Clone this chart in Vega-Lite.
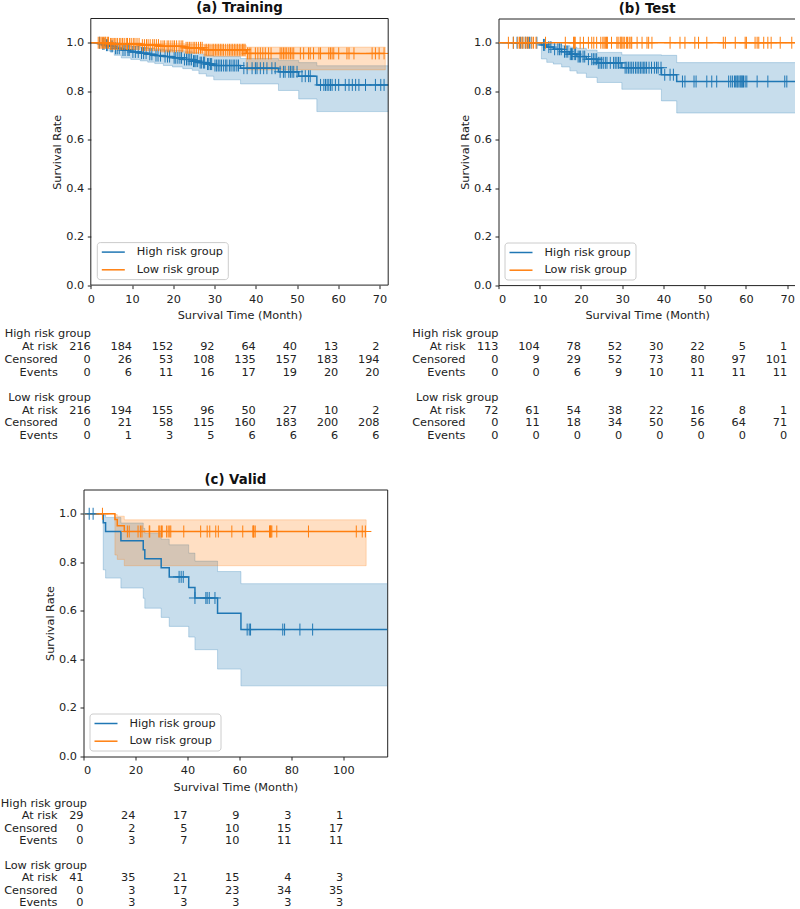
{
"$schema": "https://vega.github.io/schema/vega-lite/v6.json",
"background": "white",
"padding": {"left": 0.5, "top": 0.5, "right": -2, "bottom": 0},
"config": {
 "font": "DejaVu Sans",
 "axis": {"domain": false, "grid": false, "tickSize": 3.5, "tickWidth": 1, "tickColor": "#222", "labelColor": "#222", "titleColor": "#222", "labelFontSize": 11.3, "titleFontSize": 11.3, "titleFontWeight": "normal"},
 "axisX": {"labelPadding": 4.8, "titlePadding": 5},
 "axisY": {"labelPadding": 3.5, "titlePadding": 3.5},
 "title": {"fontSize": 13.3, "fontWeight": "bold", "color": "#111", "offset": 3.7, "anchor": "middle"},
 "legend": {"orient": "bottom-left", "offset": 6, "labelFontSize": 11.3, "labelColor": "#222", "strokeColor": "#cccccc", "fillColor": "#ffffff", "padding": 4, "cornerRadius": 3, "rowPadding": 5.7, "labelOffset": 24, "labelLimit": 300, "symbolSize": 100, "symbolStrokeWidth": 1.5}
},
"datasets": {
 "km": [
  {"p":"A","g":"H","t":0,"s":1},{"p":"A","g":"H","t":2.6,"s":0.995},{"p":"A","g":"H","t":3.4,"s":0.99},{"p":"A","g":"H","t":4.5,"s":0.985},{"p":"A","g":"H","t":5.7,"s":0.977},{"p":"A","g":"H","t":7.4,"s":0.97},{"p":"A","g":"H","t":9.7,"s":0.962},{"p":"A","g":"H","t":12,"s":0.957},{"p":"A","g":"H","t":13.8,"s":0.952},{"p":"A","g":"H","t":15.5,"s":0.947},{"p":"A","g":"H","t":17.6,"s":0.943},{"p":"A","g":"H","t":19.8,"s":0.938},{"p":"A","g":"H","t":22.3,"s":0.931},{"p":"A","g":"H","t":24.6,"s":0.924},{"p":"A","g":"H","t":26.2,"s":0.918},{"p":"A","g":"H","t":28,"s":0.912},{"p":"A","g":"H","t":29.8,"s":0.906},{"p":"A","g":"H","t":36.3,"s":0.895},{"p":"A","g":"H","t":45.5,"s":0.88},{"p":"A","g":"H","t":50.4,"s":0.862},{"p":"A","g":"H","t":54.8,"s":0.826},{"p":"A","g":"H","t":73},
  {"p":"A","g":"H","t":2.1,"c":1},{"p":"A","g":"H","t":2.9,"c":1},{"p":"A","g":"H","t":3.2,"c":1},{"p":"A","g":"H","t":3.8,"c":1},{"p":"A","g":"H","t":4.1,"c":1},{"p":"A","g":"H","t":4.9,"c":1},{"p":"A","g":"H","t":5.2,"c":1},{"p":"A","g":"H","t":6,"c":1},{"p":"A","g":"H","t":6.4,"c":1},{"p":"A","g":"H","t":6.9,"c":1},{"p":"A","g":"H","t":7.8,"c":1},{"p":"A","g":"H","t":8.3,"c":1},{"p":"A","g":"H","t":9,"c":1},{"p":"A","g":"H","t":9.3,"c":1},{"p":"A","g":"H","t":10.2,"c":1},{"p":"A","g":"H","t":10.8,"c":1},{"p":"A","g":"H","t":11.5,"c":1},{"p":"A","g":"H","t":12.3,"c":1},{"p":"A","g":"H","t":12.8,"c":1},{"p":"A","g":"H","t":13.4,"c":1},{"p":"A","g":"H","t":14.3,"c":1},{"p":"A","g":"H","t":14.8,"c":1},{"p":"A","g":"H","t":15.8,"c":1},{"p":"A","g":"H","t":16.3,"c":1},{"p":"A","g":"H","t":16.9,"c":1},{"p":"A","g":"H","t":18,"c":1},{"p":"A","g":"H","t":18.6,"c":1},{"p":"A","g":"H","t":19.1,"c":1},{"p":"A","g":"H","t":20.2,"c":1},{"p":"A","g":"H","t":20.6,"c":1},{"p":"A","g":"H","t":21.1,"c":1},{"p":"A","g":"H","t":21.6,"c":1},{"p":"A","g":"H","t":22,"c":1},{"p":"A","g":"H","t":22.7,"c":1},{"p":"A","g":"H","t":23.2,"c":1},{"p":"A","g":"H","t":23.6,"c":1},{"p":"A","g":"H","t":24,"c":1},{"p":"A","g":"H","t":24.4,"c":1},{"p":"A","g":"H","t":24.9,"c":1},{"p":"A","g":"H","t":25.2,"c":1},{"p":"A","g":"H","t":25.5,"c":1},{"p":"A","g":"H","t":25.9,"c":1},{"p":"A","g":"H","t":26.5,"c":1},{"p":"A","g":"H","t":26.8,"c":1},{"p":"A","g":"H","t":27.3,"c":1},{"p":"A","g":"H","t":27.6,"c":1},{"p":"A","g":"H","t":28.3,"c":1},{"p":"A","g":"H","t":28.6,"c":1},{"p":"A","g":"H","t":29,"c":1},{"p":"A","g":"H","t":29.3,"c":1},{"p":"A","g":"H","t":30.1,"c":1},{"p":"A","g":"H","t":30.5,"c":1},{"p":"A","g":"H","t":30.9,"c":1},{"p":"A","g":"H","t":31.3,"c":1},{"p":"A","g":"H","t":31.7,"c":1},{"p":"A","g":"H","t":32.2,"c":1},{"p":"A","g":"H","t":32.7,"c":1},{"p":"A","g":"H","t":33,"c":1},{"p":"A","g":"H","t":33.6,"c":1},{"p":"A","g":"H","t":34,"c":1},{"p":"A","g":"H","t":34.5,"c":1},{"p":"A","g":"H","t":34.9,"c":1},{"p":"A","g":"H","t":35.4,"c":1},{"p":"A","g":"H","t":35.8,"c":1},{"p":"A","g":"H","t":37.1,"c":1},{"p":"A","g":"H","t":37.9,"c":1},{"p":"A","g":"H","t":39.1,"c":1},{"p":"A","g":"H","t":39.9,"c":1},{"p":"A","g":"H","t":40.3,"c":1},{"p":"A","g":"H","t":41.1,"c":1},{"p":"A","g":"H","t":41.9,"c":1},{"p":"A","g":"H","t":42.7,"c":1},{"p":"A","g":"H","t":43.9,"c":1},{"p":"A","g":"H","t":44.7,"c":1},{"p":"A","g":"H","t":45.9,"c":1},{"p":"A","g":"H","t":46.7,"c":1},{"p":"A","g":"H","t":47.1,"c":1},{"p":"A","g":"H","t":48,"c":1},{"p":"A","g":"H","t":48.4,"c":1},{"p":"A","g":"H","t":48.8,"c":1},{"p":"A","g":"H","t":49.2,"c":1},{"p":"A","g":"H","t":50,"c":1},{"p":"A","g":"H","t":51.2,"c":1},{"p":"A","g":"H","t":52,"c":1},{"p":"A","g":"H","t":52.8,"c":1},{"p":"A","g":"H","t":53.2,"c":1},{"p":"A","g":"H","t":55.7,"c":1},{"p":"A","g":"H","t":56.5,"c":1},{"p":"A","g":"H","t":56.9,"c":1},{"p":"A","g":"H","t":57.3,"c":1},{"p":"A","g":"H","t":57.7,"c":1},{"p":"A","g":"H","t":58.1,"c":1},{"p":"A","g":"H","t":58.5,"c":1},{"p":"A","g":"H","t":59.3,"c":1},{"p":"A","g":"H","t":60.1,"c":1},{"p":"A","g":"H","t":61.7,"c":1},{"p":"A","g":"H","t":62.6,"c":1},{"p":"A","g":"H","t":63.4,"c":1},{"p":"A","g":"H","t":64.2,"c":1},{"p":"A","g":"H","t":65,"c":1},{"p":"A","g":"H","t":66.6,"c":1},{"p":"A","g":"H","t":69,"c":1},{"p":"A","g":"H","t":70.3,"c":1},{"p":"A","g":"H","t":71.1,"c":1},
  {"p":"A","g":"L","t":0,"s":1},{"p":"A","g":"L","t":4.6,"s":0.995},{"p":"A","g":"L","t":12.2,"s":0.99},{"p":"A","g":"L","t":16.7,"s":0.985},{"p":"A","g":"L","t":22.8,"s":0.979},{"p":"A","g":"L","t":27.4,"s":0.971},{"p":"A","g":"L","t":37.7,"s":0.956},
  {"p":"A","g":"L","t":1.8,"c":1},{"p":"A","g":"L","t":2.2,"c":1},{"p":"A","g":"L","t":2.5,"c":1},{"p":"A","g":"L","t":2.8,"c":1},{"p":"A","g":"L","t":3.1,"c":1},{"p":"A","g":"L","t":3.4,"c":1},{"p":"A","g":"L","t":3.6,"c":1},{"p":"A","g":"L","t":4,"c":1},{"p":"A","g":"L","t":4.3,"c":1},{"p":"A","g":"L","t":4.8,"c":1},{"p":"A","g":"L","t":5.1,"c":1},{"p":"A","g":"L","t":5.4,"c":1},{"p":"A","g":"L","t":5.8,"c":1},{"p":"A","g":"L","t":6.1,"c":1},{"p":"A","g":"L","t":6.5,"c":1},{"p":"A","g":"L","t":7,"c":1},{"p":"A","g":"L","t":7.3,"c":1},{"p":"A","g":"L","t":7.7,"c":1},{"p":"A","g":"L","t":8.1,"c":1},{"p":"A","g":"L","t":8.6,"c":1},{"p":"A","g":"L","t":8.9,"c":1},{"p":"A","g":"L","t":9.4,"c":1},{"p":"A","g":"L","t":9.8,"c":1},{"p":"A","g":"L","t":10.3,"c":1},{"p":"A","g":"L","t":10.7,"c":1},{"p":"A","g":"L","t":11.2,"c":1},{"p":"A","g":"L","t":11.7,"c":1},{"p":"A","g":"L","t":12.5,"c":1},{"p":"A","g":"L","t":13,"c":1},{"p":"A","g":"L","t":13.5,"c":1},{"p":"A","g":"L","t":13.9,"c":1},{"p":"A","g":"L","t":14.4,"c":1},{"p":"A","g":"L","t":15,"c":1},{"p":"A","g":"L","t":15.4,"c":1},{"p":"A","g":"L","t":15.9,"c":1},{"p":"A","g":"L","t":16.4,"c":1},{"p":"A","g":"L","t":17,"c":1},{"p":"A","g":"L","t":17.5,"c":1},{"p":"A","g":"L","t":17.9,"c":1},{"p":"A","g":"L","t":18.5,"c":1},{"p":"A","g":"L","t":18.9,"c":1},{"p":"A","g":"L","t":19.4,"c":1},{"p":"A","g":"L","t":19.9,"c":1},{"p":"A","g":"L","t":20.3,"c":1},{"p":"A","g":"L","t":20.8,"c":1},{"p":"A","g":"L","t":21.4,"c":1},{"p":"A","g":"L","t":21.9,"c":1},{"p":"A","g":"L","t":22.3,"c":1},{"p":"A","g":"L","t":23.1,"c":1},{"p":"A","g":"L","t":23.5,"c":1},{"p":"A","g":"L","t":23.9,"c":1},{"p":"A","g":"L","t":24.3,"c":1},{"p":"A","g":"L","t":24.8,"c":1},{"p":"A","g":"L","t":25.2,"c":1},{"p":"A","g":"L","t":25.6,"c":1},{"p":"A","g":"L","t":26.1,"c":1},{"p":"A","g":"L","t":26.6,"c":1},{"p":"A","g":"L","t":27,"c":1},{"p":"A","g":"L","t":27.7,"c":1},{"p":"A","g":"L","t":28.1,"c":1},{"p":"A","g":"L","t":28.5,"c":1},{"p":"A","g":"L","t":28.9,"c":1},{"p":"A","g":"L","t":29.4,"c":1},{"p":"A","g":"L","t":29.8,"c":1},{"p":"A","g":"L","t":30.2,"c":1},{"p":"A","g":"L","t":30.6,"c":1},{"p":"A","g":"L","t":31,"c":1},{"p":"A","g":"L","t":31.4,"c":1},{"p":"A","g":"L","t":31.8,"c":1},{"p":"A","g":"L","t":32.2,"c":1},{"p":"A","g":"L","t":32.7,"c":1},{"p":"A","g":"L","t":33.2,"c":1},{"p":"A","g":"L","t":33.6,"c":1},{"p":"A","g":"L","t":34,"c":1},{"p":"A","g":"L","t":34.4,"c":1},{"p":"A","g":"L","t":34.8,"c":1},{"p":"A","g":"L","t":35.2,"c":1},{"p":"A","g":"L","t":35.6,"c":1},{"p":"A","g":"L","t":36,"c":1},{"p":"A","g":"L","t":36.4,"c":1},{"p":"A","g":"L","t":36.8,"c":1},{"p":"A","g":"L","t":37.1,"c":1},{"p":"A","g":"L","t":37.4,"c":1},{"p":"A","g":"L","t":38,"c":1},{"p":"A","g":"L","t":38.4,"c":1},{"p":"A","g":"L","t":38.8,"c":1},{"p":"A","g":"L","t":39.9,"c":1},{"p":"A","g":"L","t":40.5,"c":1},{"p":"A","g":"L","t":41.1,"c":1},{"p":"A","g":"L","t":41.7,"c":1},{"p":"A","g":"L","t":42.3,"c":1},{"p":"A","g":"L","t":43.1,"c":1},{"p":"A","g":"L","t":43.7,"c":1},{"p":"A","g":"L","t":45.9,"c":1},{"p":"A","g":"L","t":46.3,"c":1},{"p":"A","g":"L","t":46.7,"c":1},{"p":"A","g":"L","t":47.1,"c":1},{"p":"A","g":"L","t":47.5,"c":1},{"p":"A","g":"L","t":48,"c":1},{"p":"A","g":"L","t":48.4,"c":1},{"p":"A","g":"L","t":48.8,"c":1},{"p":"A","g":"L","t":49.2,"c":1},{"p":"A","g":"L","t":50.8,"c":1},{"p":"A","g":"L","t":51.6,"c":1},{"p":"A","g":"L","t":52.8,"c":1},{"p":"A","g":"L","t":53.2,"c":1},{"p":"A","g":"L","t":54,"c":1},{"p":"A","g":"L","t":55.3,"c":1},{"p":"A","g":"L","t":55.7,"c":1},{"p":"A","g":"L","t":57.7,"c":1},{"p":"A","g":"L","t":58.1,"c":1},{"p":"A","g":"L","t":58.5,"c":1},{"p":"A","g":"L","t":58.9,"c":1},{"p":"A","g":"L","t":60.1,"c":1},{"p":"A","g":"L","t":62.1,"c":1},{"p":"A","g":"L","t":62.6,"c":1},{"p":"A","g":"L","t":63.8,"c":1},{"p":"A","g":"L","t":68.2,"c":1},{"p":"A","g":"L","t":69,"c":1},{"p":"A","g":"L","t":69.9,"c":1},{"p":"A","g":"L","t":71.1,"c":1},
  {"p":"B","g":"H","t":0,"s":1},{"p":"B","g":"H","t":10.4,"s":0.991},{"p":"B","g":"H","t":11.7,"s":0.982},{"p":"B","g":"H","t":13.3,"s":0.973},{"p":"B","g":"H","t":15.3,"s":0.963},{"p":"B","g":"H","t":17.3,"s":0.953},{"p":"B","g":"H","t":19,"s":0.943},{"p":"B","g":"H","t":21.3,"s":0.932},{"p":"B","g":"H","t":23.9,"s":0.917},{"p":"B","g":"H","t":29.9,"s":0.897},{"p":"B","g":"H","t":39.5,"s":0.868},{"p":"B","g":"H","t":43.2,"s":0.84},{"p":"B","g":"H","t":73},
  {"p":"B","g":"H","t":3.6,"c":1},{"p":"B","g":"H","t":4.5,"c":1},{"p":"B","g":"H","t":5.3,"c":1},{"p":"B","g":"H","t":5.9,"c":1},{"p":"B","g":"H","t":6.5,"c":1},{"p":"B","g":"H","t":7,"c":1},{"p":"B","g":"H","t":7.5,"c":1},{"p":"B","g":"H","t":7.9,"c":1},{"p":"B","g":"H","t":9.3,"c":1},{"p":"B","g":"H","t":10.9,"c":1},{"p":"B","g":"H","t":11.2,"c":1},{"p":"B","g":"H","t":12.2,"c":1},{"p":"B","g":"H","t":12.7,"c":1},{"p":"B","g":"H","t":13.6,"c":1},{"p":"B","g":"H","t":14.4,"c":1},{"p":"B","g":"H","t":14.8,"c":1},{"p":"B","g":"H","t":15.2,"c":1},{"p":"B","g":"H","t":16,"c":1},{"p":"B","g":"H","t":16.4,"c":1},{"p":"B","g":"H","t":16.8,"c":1},{"p":"B","g":"H","t":17.4,"c":1},{"p":"B","g":"H","t":17.7,"c":1},{"p":"B","g":"H","t":18,"c":1},{"p":"B","g":"H","t":18.5,"c":1},{"p":"B","g":"H","t":18.7,"c":1},{"p":"B","g":"H","t":19.3,"c":1},{"p":"B","g":"H","t":19.6,"c":1},{"p":"B","g":"H","t":19.9,"c":1},{"p":"B","g":"H","t":20.5,"c":1},{"p":"B","g":"H","t":20.9,"c":1},{"p":"B","g":"H","t":21.8,"c":1},{"p":"B","g":"H","t":22.6,"c":1},{"p":"B","g":"H","t":23,"c":1},{"p":"B","g":"H","t":23.4,"c":1},{"p":"B","g":"H","t":23.8,"c":1},{"p":"B","g":"H","t":24.2,"c":1},{"p":"B","g":"H","t":24.6,"c":1},{"p":"B","g":"H","t":25,"c":1},{"p":"B","g":"H","t":25.4,"c":1},{"p":"B","g":"H","t":25.9,"c":1},{"p":"B","g":"H","t":26.3,"c":1},{"p":"B","g":"H","t":27.1,"c":1},{"p":"B","g":"H","t":27.9,"c":1},{"p":"B","g":"H","t":28.3,"c":1},{"p":"B","g":"H","t":28.7,"c":1},{"p":"B","g":"H","t":29.1,"c":1},{"p":"B","g":"H","t":29.5,"c":1},{"p":"B","g":"H","t":30.7,"c":1},{"p":"B","g":"H","t":31.1,"c":1},{"p":"B","g":"H","t":31.5,"c":1},{"p":"B","g":"H","t":31.9,"c":1},{"p":"B","g":"H","t":32.3,"c":1},{"p":"B","g":"H","t":32.7,"c":1},{"p":"B","g":"H","t":33.2,"c":1},{"p":"B","g":"H","t":33.6,"c":1},{"p":"B","g":"H","t":34,"c":1},{"p":"B","g":"H","t":34.4,"c":1},{"p":"B","g":"H","t":34.8,"c":1},{"p":"B","g":"H","t":35.2,"c":1},{"p":"B","g":"H","t":35.5,"c":1},{"p":"B","g":"H","t":35.9,"c":1},{"p":"B","g":"H","t":36.5,"c":1},{"p":"B","g":"H","t":37.1,"c":1},{"p":"B","g":"H","t":37.8,"c":1},{"p":"B","g":"H","t":38.3,"c":1},{"p":"B","g":"H","t":38.7,"c":1},{"p":"B","g":"H","t":39.4,"c":1},{"p":"B","g":"H","t":40.3,"c":1},{"p":"B","g":"H","t":41.6,"c":1},{"p":"B","g":"H","t":42.4,"c":1},{"p":"B","g":"H","t":44.6,"c":1},{"p":"B","g":"H","t":45.2,"c":1},{"p":"B","g":"H","t":47.4,"c":1},{"p":"B","g":"H","t":47.9,"c":1},{"p":"B","g":"H","t":50.5,"c":1},{"p":"B","g":"H","t":51.7,"c":1},{"p":"B","g":"H","t":52.9,"c":1},{"p":"B","g":"H","t":55.8,"c":1},{"p":"B","g":"H","t":56.3,"c":1},{"p":"B","g":"H","t":56.7,"c":1},{"p":"B","g":"H","t":57.2,"c":1},{"p":"B","g":"H","t":57.5,"c":1},{"p":"B","g":"H","t":57.8,"c":1},{"p":"B","g":"H","t":58,"c":1},{"p":"B","g":"H","t":58.3,"c":1},{"p":"B","g":"H","t":58.6,"c":1},{"p":"B","g":"H","t":58.8,"c":1},{"p":"B","g":"H","t":59,"c":1},{"p":"B","g":"H","t":59.2,"c":1},{"p":"B","g":"H","t":59.4,"c":1},{"p":"B","g":"H","t":59.8,"c":1},{"p":"B","g":"H","t":60.2,"c":1},{"p":"B","g":"H","t":62.7,"c":1},{"p":"B","g":"H","t":65.3,"c":1},{"p":"B","g":"H","t":69.4,"c":1},{"p":"B","g":"H","t":69.9,"c":1},
  {"p":"B","g":"L","t":0,"s":1},{"p":"B","g":"L","t":73},
  {"p":"B","g":"L","t":2.4,"c":1},{"p":"B","g":"L","t":3.6,"c":1},{"p":"B","g":"L","t":4.7,"c":1},{"p":"B","g":"L","t":5.1,"c":1},{"p":"B","g":"L","t":5.5,"c":1},{"p":"B","g":"L","t":5.9,"c":1},{"p":"B","g":"L","t":6.5,"c":1},{"p":"B","g":"L","t":6.9,"c":1},{"p":"B","g":"L","t":7.3,"c":1},{"p":"B","g":"L","t":8.1,"c":1},{"p":"B","g":"L","t":8.5,"c":1},{"p":"B","g":"L","t":9.1,"c":1},{"p":"B","g":"L","t":11.4,"c":1},{"p":"B","g":"L","t":16.2,"c":1},{"p":"B","g":"L","t":18.2,"c":1},{"p":"B","g":"L","t":18.4,"c":1},{"p":"B","g":"L","t":18.6,"c":1},{"p":"B","g":"L","t":19.8,"c":1},{"p":"B","g":"L","t":20.6,"c":1},{"p":"B","g":"L","t":21.8,"c":1},{"p":"B","g":"L","t":22.6,"c":1},{"p":"B","g":"L","t":23.1,"c":1},{"p":"B","g":"L","t":23.8,"c":1},{"p":"B","g":"L","t":24.8,"c":1},{"p":"B","g":"L","t":25.3,"c":1},{"p":"B","g":"L","t":25.6,"c":1},{"p":"B","g":"L","t":25.9,"c":1},{"p":"B","g":"L","t":26.2,"c":1},{"p":"B","g":"L","t":26.4,"c":1},{"p":"B","g":"L","t":27.4,"c":1},{"p":"B","g":"L","t":28.7,"c":1},{"p":"B","g":"L","t":29,"c":1},{"p":"B","g":"L","t":29.5,"c":1},{"p":"B","g":"L","t":29.7,"c":1},{"p":"B","g":"L","t":29.9,"c":1},{"p":"B","g":"L","t":30.2,"c":1},{"p":"B","g":"L","t":30.5,"c":1},{"p":"B","g":"L","t":31,"c":1},{"p":"B","g":"L","t":31.3,"c":1},{"p":"B","g":"L","t":31.7,"c":1},{"p":"B","g":"L","t":32.1,"c":1},{"p":"B","g":"L","t":32.3,"c":1},{"p":"B","g":"L","t":33.6,"c":1},{"p":"B","g":"L","t":34.8,"c":1},{"p":"B","g":"L","t":36,"c":1},{"p":"B","g":"L","t":36.4,"c":1},{"p":"B","g":"L","t":37.2,"c":1},{"p":"B","g":"L","t":41.6,"c":1},{"p":"B","g":"L","t":44,"c":1},{"p":"B","g":"L","t":45.2,"c":1},{"p":"B","g":"L","t":47.6,"c":1},{"p":"B","g":"L","t":48.5,"c":1},{"p":"B","g":"L","t":50.5,"c":1},{"p":"B","g":"L","t":54.5,"c":1},{"p":"B","g":"L","t":55,"c":1},{"p":"B","g":"L","t":57.4,"c":1},{"p":"B","g":"L","t":59.8,"c":1},{"p":"B","g":"L","t":60.1,"c":1},{"p":"B","g":"L","t":62.2,"c":1},{"p":"B","g":"L","t":62.7,"c":1},{"p":"B","g":"L","t":63.1,"c":1},{"p":"B","g":"L","t":64.3,"c":1},{"p":"B","g":"L","t":65.3,"c":1},{"p":"B","g":"L","t":66.1,"c":1},{"p":"B","g":"L","t":68.3,"c":1},{"p":"B","g":"L","t":71.1,"c":1},
  {"p":"C","g":"H","t":0,"s":1},{"p":"C","g":"H","t":7.6,"s":0.963},{"p":"C","g":"H","t":8.5,"s":0.927},{"p":"C","g":"H","t":14.4,"s":0.889},{"p":"C","g":"H","t":23,"s":0.852},{"p":"C","g":"H","t":23.6,"s":0.815},{"p":"C","g":"H","t":29.9,"s":0.778},{"p":"C","g":"H","t":33,"s":0.74},{"p":"C","g":"H","t":40.5,"s":0.696},{"p":"C","g":"H","t":42.9,"s":0.653},{"p":"C","g":"H","t":51.6,"s":0.59},{"p":"C","g":"H","t":60.6,"s":0.523},{"p":"C","g":"H","t":120},
  {"p":"C","g":"H","t":2.2,"c":1},{"p":"C","g":"H","t":3.7,"c":1},{"p":"C","g":"H","t":36.8,"c":1},{"p":"C","g":"H","t":37.6,"c":1},{"p":"C","g":"H","t":38.4,"c":1},{"p":"C","g":"H","t":42.9,"c":1},{"p":"C","g":"H","t":47.1,"c":1},{"p":"C","g":"H","t":47.6,"c":1},{"p":"C","g":"H","t":48.4,"c":1},{"p":"C","g":"H","t":50.6,"c":1},{"p":"C","g":"H","t":63,"c":1},{"p":"C","g":"H","t":63.8,"c":1},{"p":"C","g":"H","t":64.3,"c":1},{"p":"C","g":"H","t":76.7,"c":1},{"p":"C","g":"H","t":77.4,"c":1},{"p":"C","g":"H","t":83.3,"c":1},{"p":"C","g":"H","t":88.2,"c":1},
  {"p":"C","g":"L","t":0,"s":1},{"p":"C","g":"L","t":12.1,"s":0.976},{"p":"C","g":"L","t":13,"s":0.951},{"p":"C","g":"L","t":15.7,"s":0.927},
  {"p":"C","g":"L","t":7.3,"c":1},{"p":"C","g":"L","t":16.9,"c":1},{"p":"C","g":"L","t":17.6,"c":1},{"p":"C","g":"L","t":21,"c":1},{"p":"C","g":"L","t":21.9,"c":1},{"p":"C","g":"L","t":22.5,"c":1},{"p":"C","g":"L","t":25.3,"c":1},{"p":"C","g":"L","t":25.5,"c":1},{"p":"C","g":"L","t":29,"c":1},{"p":"C","g":"L","t":29.4,"c":1},{"p":"C","g":"L","t":30,"c":1},{"p":"C","g":"L","t":30.3,"c":1},{"p":"C","g":"L","t":32,"c":1},{"p":"C","g":"L","t":32.6,"c":1},{"p":"C","g":"L","t":33.2,"c":1},{"p":"C","g":"L","t":33.6,"c":1},{"p":"C","g":"L","t":38.6,"c":1},{"p":"C","g":"L","t":45.1,"c":1},{"p":"C","g":"L","t":47.6,"c":1},{"p":"C","g":"L","t":48.6,"c":1},{"p":"C","g":"L","t":50.9,"c":1},{"p":"C","g":"L","t":51.9,"c":1},{"p":"C","g":"L","t":57.1,"c":1},{"p":"C","g":"L","t":61.3,"c":1},{"p":"C","g":"L","t":65.2,"c":1},{"p":"C","g":"L","t":65.4,"c":1},{"p":"C","g":"L","t":65.6,"c":1},{"p":"C","g":"L","t":66.1,"c":1},{"p":"C","g":"L","t":71.6,"c":1},{"p":"C","g":"L","t":71.8,"c":1},{"p":"C","g":"L","t":72,"c":1},{"p":"C","g":"L","t":72.2,"c":1},{"p":"C","g":"L","t":72.5,"c":1},{"p":"C","g":"L","t":74.4,"c":1},{"p":"C","g":"L","t":86.6,"c":1},{"p":"C","g":"L","t":105,"c":1},{"p":"C","g":"L","t":107.3,"c":1},{"p":"C","g":"L","t":108.5,"c":1}
 ],
 "band": [
  {"p":"A","g":"H","t":0,"lo":1,"hi":1},{"p":"A","g":"H","t":2.6,"lo":0.985,"hi":1},{"p":"A","g":"H","t":4.5,"lo":0.965,"hi":0.997},{"p":"A","g":"H","t":5.7,"lo":0.948,"hi":0.993},{"p":"A","g":"H","t":7.4,"lo":0.937,"hi":0.988},{"p":"A","g":"H","t":9.7,"lo":0.931,"hi":0.984},{"p":"A","g":"H","t":12,"lo":0.925,"hi":0.98},{"p":"A","g":"H","t":13.8,"lo":0.92,"hi":0.977},{"p":"A","g":"H","t":15.5,"lo":0.914,"hi":0.974},{"p":"A","g":"H","t":17.6,"lo":0.906,"hi":0.971},{"p":"A","g":"H","t":19.8,"lo":0.9,"hi":0.968},{"p":"A","g":"H","t":22.3,"lo":0.893,"hi":0.963},{"p":"A","g":"H","t":24.6,"lo":0.886,"hi":0.958},{"p":"A","g":"H","t":26.2,"lo":0.872,"hi":0.953},{"p":"A","g":"H","t":28,"lo":0.862,"hi":0.948},{"p":"A","g":"H","t":29.8,"lo":0.847,"hi":0.943},{"p":"A","g":"H","t":36.3,"lo":0.83,"hi":0.935},{"p":"A","g":"H","t":45.5,"lo":0.803,"hi":0.927},{"p":"A","g":"H","t":50.4,"lo":0.768,"hi":0.918},{"p":"A","g":"H","t":54.8,"lo":0.716,"hi":0.905},{"p":"A","g":"H","t":73,"lo":0.716,"hi":0.905},
  {"p":"A","g":"L","t":0,"lo":1,"hi":1},{"p":"A","g":"L","t":4.6,"lo":0.985,"hi":1},{"p":"A","g":"L","t":12.2,"lo":0.976,"hi":0.998},{"p":"A","g":"L","t":16.7,"lo":0.968,"hi":0.996},{"p":"A","g":"L","t":22.8,"lo":0.958,"hi":0.993},{"p":"A","g":"L","t":27.4,"lo":0.944,"hi":0.989},{"p":"A","g":"L","t":37.7,"lo":0.888,"hi":0.982},{"p":"A","g":"L","t":71.4,"lo":0.888,"hi":0.982},
  {"p":"B","g":"H","t":0,"lo":1,"hi":1},{"p":"B","g":"H","t":10.4,"lo":0.933,"hi":0.999},{"p":"B","g":"H","t":11.7,"lo":0.919,"hi":0.996},{"p":"B","g":"H","t":13.3,"lo":0.912,"hi":0.993},{"p":"B","g":"H","t":15.3,"lo":0.9,"hi":0.988},{"p":"B","g":"H","t":17.3,"lo":0.884,"hi":0.982},{"p":"B","g":"H","t":19,"lo":0.874,"hi":0.977},{"p":"B","g":"H","t":21.3,"lo":0.857,"hi":0.97},{"p":"B","g":"H","t":23.9,"lo":0.836,"hi":0.96},{"p":"B","g":"H","t":29.9,"lo":0.808,"hi":0.95},{"p":"B","g":"H","t":39.5,"lo":0.76,"hi":0.948},{"p":"B","g":"H","t":43.2,"lo":0.71,"hi":0.918},{"p":"B","g":"H","t":73,"lo":0.71,"hi":0.918},
  {"p":"C","g":"H","t":0,"lo":1,"hi":1},{"p":"C","g":"H","t":7.6,"lo":0.769,"hi":0.995},{"p":"C","g":"H","t":8.5,"lo":0.735,"hi":0.985},{"p":"C","g":"H","t":14.4,"lo":0.694,"hi":0.962},{"p":"C","g":"H","t":23,"lo":0.652,"hi":0.94},{"p":"C","g":"H","t":23.6,"lo":0.611,"hi":0.92},{"p":"C","g":"H","t":29.9,"lo":0.573,"hi":0.895},{"p":"C","g":"H","t":33,"lo":0.536,"hi":0.872},{"p":"C","g":"H","t":40.5,"lo":0.492,"hi":0.838},{"p":"C","g":"H","t":42.9,"lo":0.44,"hi":0.805},{"p":"C","g":"H","t":51.6,"lo":0.36,"hi":0.762},{"p":"C","g":"H","t":60.6,"lo":0.291,"hi":0.712},{"p":"C","g":"H","t":120,"lo":0.291,"hi":0.712},
  {"p":"C","g":"L","t":0,"lo":1,"hi":1},{"p":"C","g":"L","t":12.1,"lo":0.83,"hi":0.997},{"p":"C","g":"L","t":13,"lo":0.812,"hi":0.99},{"p":"C","g":"L","t":15.7,"lo":0.786,"hi":0.975},{"p":"C","g":"L","t":108.8,"lo":0.786,"hi":0.975}
 ],
 "frame": [{"p":"A","x0":0,"x1":72.1,"y0":0,"y1":1.1}],
 "lab": [
  {"r":0,"k":"g","lab":"High risk group"},{"r":1,"k":"r","lab":"At risk"},{"r":2,"k":"r","lab":"Censored"},{"r":3,"k":"r","lab":"Events"},
  {"r":5,"k":"g","lab":"Low risk group"},{"r":6,"k":"r","lab":"At risk"},{"r":7,"k":"r","lab":"Censored"},{"r":8,"k":"r","lab":"Events"}
 ],
 "tab": [
  {"p":"A","r":1,"t":0,"v":"216"},{"p":"A","r":1,"t":10,"v":"184"},{"p":"A","r":1,"t":20,"v":"152"},{"p":"A","r":1,"t":30,"v":"92"},{"p":"A","r":1,"t":40,"v":"64"},{"p":"A","r":1,"t":50,"v":"40"},{"p":"A","r":1,"t":60,"v":"13"},{"p":"A","r":1,"t":70,"v":"2"},
  {"p":"A","r":2,"t":0,"v":"0"},{"p":"A","r":2,"t":10,"v":"26"},{"p":"A","r":2,"t":20,"v":"53"},{"p":"A","r":2,"t":30,"v":"108"},{"p":"A","r":2,"t":40,"v":"135"},{"p":"A","r":2,"t":50,"v":"157"},{"p":"A","r":2,"t":60,"v":"183"},{"p":"A","r":2,"t":70,"v":"194"},
  {"p":"A","r":3,"t":0,"v":"0"},{"p":"A","r":3,"t":10,"v":"6"},{"p":"A","r":3,"t":20,"v":"11"},{"p":"A","r":3,"t":30,"v":"16"},{"p":"A","r":3,"t":40,"v":"17"},{"p":"A","r":3,"t":50,"v":"19"},{"p":"A","r":3,"t":60,"v":"20"},{"p":"A","r":3,"t":70,"v":"20"},
  {"p":"A","r":6,"t":0,"v":"216"},{"p":"A","r":6,"t":10,"v":"194"},{"p":"A","r":6,"t":20,"v":"155"},{"p":"A","r":6,"t":30,"v":"96"},{"p":"A","r":6,"t":40,"v":"50"},{"p":"A","r":6,"t":50,"v":"27"},{"p":"A","r":6,"t":60,"v":"10"},{"p":"A","r":6,"t":70,"v":"2"},
  {"p":"A","r":7,"t":0,"v":"0"},{"p":"A","r":7,"t":10,"v":"21"},{"p":"A","r":7,"t":20,"v":"58"},{"p":"A","r":7,"t":30,"v":"115"},{"p":"A","r":7,"t":40,"v":"160"},{"p":"A","r":7,"t":50,"v":"183"},{"p":"A","r":7,"t":60,"v":"200"},{"p":"A","r":7,"t":70,"v":"208"},
  {"p":"A","r":8,"t":0,"v":"0"},{"p":"A","r":8,"t":10,"v":"1"},{"p":"A","r":8,"t":20,"v":"3"},{"p":"A","r":8,"t":30,"v":"5"},{"p":"A","r":8,"t":40,"v":"6"},{"p":"A","r":8,"t":50,"v":"6"},{"p":"A","r":8,"t":60,"v":"6"},{"p":"A","r":8,"t":70,"v":"6"},
  {"p":"B","r":1,"t":0,"v":"113"},{"p":"B","r":1,"t":10,"v":"104"},{"p":"B","r":1,"t":20,"v":"78"},{"p":"B","r":1,"t":30,"v":"52"},{"p":"B","r":1,"t":40,"v":"30"},{"p":"B","r":1,"t":50,"v":"22"},{"p":"B","r":1,"t":60,"v":"5"},{"p":"B","r":1,"t":70,"v":"1"},
  {"p":"B","r":2,"t":0,"v":"0"},{"p":"B","r":2,"t":10,"v":"9"},{"p":"B","r":2,"t":20,"v":"29"},{"p":"B","r":2,"t":30,"v":"52"},{"p":"B","r":2,"t":40,"v":"73"},{"p":"B","r":2,"t":50,"v":"80"},{"p":"B","r":2,"t":60,"v":"97"},{"p":"B","r":2,"t":70,"v":"101"},
  {"p":"B","r":3,"t":0,"v":"0"},{"p":"B","r":3,"t":10,"v":"0"},{"p":"B","r":3,"t":20,"v":"6"},{"p":"B","r":3,"t":30,"v":"9"},{"p":"B","r":3,"t":40,"v":"10"},{"p":"B","r":3,"t":50,"v":"11"},{"p":"B","r":3,"t":60,"v":"11"},{"p":"B","r":3,"t":70,"v":"11"},
  {"p":"B","r":6,"t":0,"v":"72"},{"p":"B","r":6,"t":10,"v":"61"},{"p":"B","r":6,"t":20,"v":"54"},{"p":"B","r":6,"t":30,"v":"38"},{"p":"B","r":6,"t":40,"v":"22"},{"p":"B","r":6,"t":50,"v":"16"},{"p":"B","r":6,"t":60,"v":"8"},{"p":"B","r":6,"t":70,"v":"1"},
  {"p":"B","r":7,"t":0,"v":"0"},{"p":"B","r":7,"t":10,"v":"11"},{"p":"B","r":7,"t":20,"v":"18"},{"p":"B","r":7,"t":30,"v":"34"},{"p":"B","r":7,"t":40,"v":"50"},{"p":"B","r":7,"t":50,"v":"56"},{"p":"B","r":7,"t":60,"v":"64"},{"p":"B","r":7,"t":70,"v":"71"},
  {"p":"B","r":8,"t":0,"v":"0"},{"p":"B","r":8,"t":10,"v":"0"},{"p":"B","r":8,"t":20,"v":"0"},{"p":"B","r":8,"t":30,"v":"0"},{"p":"B","r":8,"t":40,"v":"0"},{"p":"B","r":8,"t":50,"v":"0"},{"p":"B","r":8,"t":60,"v":"0"},{"p":"B","r":8,"t":70,"v":"0"},
  {"p":"C","r":1,"t":0,"v":"29"},{"p":"C","r":1,"t":20,"v":"24"},{"p":"C","r":1,"t":40,"v":"17"},{"p":"C","r":1,"t":60,"v":"9"},{"p":"C","r":1,"t":80,"v":"3"},{"p":"C","r":1,"t":100,"v":"1"},
  {"p":"C","r":2,"t":0,"v":"0"},{"p":"C","r":2,"t":20,"v":"2"},{"p":"C","r":2,"t":40,"v":"5"},{"p":"C","r":2,"t":60,"v":"10"},{"p":"C","r":2,"t":80,"v":"15"},{"p":"C","r":2,"t":100,"v":"17"},
  {"p":"C","r":3,"t":0,"v":"0"},{"p":"C","r":3,"t":20,"v":"3"},{"p":"C","r":3,"t":40,"v":"7"},{"p":"C","r":3,"t":60,"v":"10"},{"p":"C","r":3,"t":80,"v":"11"},{"p":"C","r":3,"t":100,"v":"11"},
  {"p":"C","r":6,"t":0,"v":"41"},{"p":"C","r":6,"t":20,"v":"35"},{"p":"C","r":6,"t":40,"v":"21"},{"p":"C","r":6,"t":60,"v":"15"},{"p":"C","r":6,"t":80,"v":"4"},{"p":"C","r":6,"t":100,"v":"3"},
  {"p":"C","r":7,"t":0,"v":"0"},{"p":"C","r":7,"t":20,"v":"3"},{"p":"C","r":7,"t":40,"v":"17"},{"p":"C","r":7,"t":60,"v":"23"},{"p":"C","r":7,"t":80,"v":"34"},{"p":"C","r":7,"t":100,"v":"35"},
  {"p":"C","r":8,"t":0,"v":"0"},{"p":"C","r":8,"t":20,"v":"3"},{"p":"C","r":8,"t":40,"v":"3"},{"p":"C","r":8,"t":60,"v":"3"},{"p":"C","r":8,"t":80,"v":"3"},{"p":"C","r":8,"t":100,"v":"3"}
 ]
},
"columns": 2,
"spacing": {"row": 0, "column": 110},
"bounds": "flush",
"align": "each",
"resolve": {"scale": {"color": "independent"}, "legend": {"color": "independent"}},
"concat": [
 {"width": 304.7, "height": 266.6, "view": {"stroke": null},
  "title": {"text": "(a) Training", "dx": 3.65},
  "encoding": {
   "x": {"field": "t", "type": "quantitative", "scale": {"domain": [-1.772, 72.1], "nice": false, "zero": false}, "axis": {"values": [0,10,20,30,40,50,60,70], "title": "Survival Time (Month)", "titleX": 156}},
   "y": {"field": "S", "type": "quantitative", "scale": {"domain": [0, 1.1], "nice": false}, "axis": {"values": [0,0.2,0.4,0.6,0.8,1], "format": ".1f", "title": "Survival Rate", "offset": -7.3}}},
  "layer": [
   {"data": {"name": "band"}, "transform": [{"filter": "datum.p == 'A' && datum.g == 'H'"}],
    "mark": {"type": "area", "interpolate": "step-after", "fill": "#1f77b4", "fillOpacity": 0.25, "stroke": "#1f77b4", "strokeOpacity": 0.25, "strokeWidth": 1, "clip": true},
    "encoding": {"y": {"field": "lo", "type": "quantitative", "title": "Survival Rate"}, "y2": {"field": "hi"}}},
   {"data": {"name": "band"}, "transform": [{"filter": "datum.p == 'A' && datum.g == 'L'"}],
    "mark": {"type": "area", "interpolate": "step-after", "fill": "#ff7f0e", "fillOpacity": 0.25, "stroke": "#ff7f0e", "strokeOpacity": 0.25, "strokeWidth": 1, "clip": true},
    "encoding": {"y": {"field": "lo", "type": "quantitative", "title": "Survival Rate"}, "y2": {"field": "hi"}}},
   {"data": {"name": "km"}, "transform": [{"filter": "datum.p == 'A'"}, {"window": [{"op": "min", "field": "s", "as": "S"}], "groupby": ["g"], "sort": [{"field": "t"}], "frame": [null, 0]}],
    "layer": [
     {"mark": {"type": "line", "interpolate": "step-after", "strokeWidth": 1.5, "clip": true},
      "encoding": {"color": {"field": "g", "type": "nominal", "scale": {"domain": ["H","L"], "range": ["#1f77b4","#ff7f0e"]}, "legend": {"title": null, "orient": "none", "legendX": 13.3, "legendY": 223.6, "symbolType": "M-1,0L3.6,0", "symbolStrokeWidth": 1.5, "labelExpr": "datum.label == 'H' ? 'High risk group' : 'Low risk group'"}}}},
     {"transform": [{"filter": "datum.c == 1 && datum.g == 'H'"}],
      "mark": {"type": "point", "shape": "M-1,0L1,0M0,-1L0,1", "size": 144, "filled": false, "stroke": "#1f77b4", "strokeWidth": 1, "opacity": 1, "clip": true}},
     {"transform": [{"filter": "datum.c == 1 && datum.g == 'L'"}],
      "mark": {"type": "point", "shape": "M-1,0L1,0M0,-1L0,1", "size": 144, "filled": false, "stroke": "#ff7f0e", "strokeWidth": 1, "opacity": 1, "clip": true}}
    ]},
   {"data": {"name": "frame"},
    "mark": {"type": "rect", "fill": "transparent", "stroke": "#222", "strokeWidth": 1},
    "encoding": {"x": {"field": "x0", "type": "quantitative"}, "x2": {"field": "x1"}, "y": {"field": "y0", "type": "quantitative"}, "y2": {"field": "y1"}}}
  ]},
 {"width": 297.4, "height": 266.6, "view": {"stroke": "#222"},
  "title": {"text": "(b) Test"},
  "data": {"name": "km"},
  "transform": [{"filter": "datum.p == 'B'"}, {"window": [{"op": "min", "field": "s", "as": "S"}], "groupby": ["g"], "sort": [{"field": "t"}], "frame": [null, 0]}],
  "encoding": {
   "x": {"field": "t", "type": "quantitative", "scale": {"domain": [0, 72.1], "nice": false, "zero": false}, "axis": {"values": [0,10,20,30,40,50,60,70], "title": "Survival Time (Month)"}},
   "y": {"field": "S", "type": "quantitative", "scale": {"domain": [0, 1.1], "nice": false}, "axis": {"values": [0,0.2,0.4,0.6,0.8,1], "format": ".1f", "title": "Survival Rate"}}},
  "layer": [
   {"data": {"name": "band"}, "transform": [{"filter": "datum.p == 'B' && datum.g == 'H'"}],
    "mark": {"type": "area", "interpolate": "step-after", "fill": "#1f77b4", "fillOpacity": 0.25, "stroke": "#1f77b4", "strokeOpacity": 0.25, "strokeWidth": 1, "clip": true},
    "encoding": {"y": {"field": "lo", "type": "quantitative", "title": "Survival Rate"}, "y2": {"field": "hi"}}},
   {"mark": {"type": "line", "interpolate": "step-after", "strokeWidth": 1.5, "clip": true},
    "encoding": {"color": {"field": "g", "type": "nominal", "scale": {"domain": ["H","L"], "range": ["#1f77b4","#ff7f0e"]}, "legend": {"title": null, "symbolType": "M-1,0L3.6,0", "symbolStrokeWidth": 1.5, "labelExpr": "datum.label == 'H' ? 'High risk group' : 'Low risk group'"}}}},
   {"transform": [{"filter": "datum.c == 1 && datum.g == 'H'"}],
    "mark": {"type": "point", "shape": "M-1,0L1,0M0,-1L0,1", "size": 144, "filled": false, "stroke": "#1f77b4", "strokeWidth": 1, "opacity": 1, "clip": true}},
   {"transform": [{"filter": "datum.c == 1 && datum.g == 'L'"}],
    "mark": {"type": "point", "shape": "M-1,0L1,0M0,-1L0,1", "size": 144, "filled": false, "stroke": "#ff7f0e", "strokeWidth": 1, "opacity": 1, "clip": true}}
  ]},
 {"width": 304.7, "height": 203.7, "view": {"stroke": null},
  "layer": [
   {"data": {"name": "tab"}, "transform": [{"filter": "datum.p == 'A'"}],
    "mark": {"type": "text", "align": "right", "baseline": "middle", "fontSize": 11.3, "color": "#222"},
    "encoding": {"x": {"field": "t", "type": "quantitative", "scale": {"domain": [-1.772, 72.1], "nice": false, "zero": false}, "axis": null},
     "y": {"field": "r", "type": "quantitative", "scale": {"domain": [-3.858, 12.181], "nice": false, "zero": false, "reverse": true}, "axis": null},
     "text": {"field": "v", "type": "nominal"}}},
   {"data": {"name": "lab"}, "transform": [{"filter": "datum.k == 'g'"}],
    "mark": {"type": "text", "align": "right", "baseline": "middle", "fontSize": 11.3, "color": "#222"},
    "encoding": {"x": {"datum": 0, "type": "quantitative"}, "y": {"field": "r", "type": "quantitative"}, "text": {"field": "lab", "type": "nominal"}}},
   {"data": {"name": "lab"}, "transform": [{"filter": "datum.k == 'r'"}],
    "mark": {"type": "text", "align": "right", "baseline": "middle", "fontSize": 11.3, "color": "#222", "dx": -33},
    "encoding": {"x": {"datum": 0, "type": "quantitative"}, "y": {"field": "r", "type": "quantitative"}, "text": {"field": "lab", "type": "nominal"}}}
  ]},
 {"width": 297.4, "height": 203.7, "view": {"stroke": null},
  "layer": [
   {"data": {"name": "tab"}, "transform": [{"filter": "datum.p == 'B'"}],
    "mark": {"type": "text", "align": "right", "baseline": "middle", "fontSize": 11.3, "color": "#222"},
    "encoding": {"x": {"field": "t", "type": "quantitative", "scale": {"domain": [0, 72.1], "nice": false, "zero": false}, "axis": null},
     "y": {"field": "r", "type": "quantitative", "scale": {"domain": [-3.858, 12.181], "nice": false, "zero": false, "reverse": true}, "axis": null},
     "text": {"field": "v", "type": "nominal"}}},
   {"data": {"name": "lab"}, "transform": [{"filter": "datum.k == 'g'"}],
    "mark": {"type": "text", "align": "right", "baseline": "middle", "fontSize": 11.3, "color": "#222"},
    "encoding": {"x": {"datum": 0, "type": "quantitative"}, "y": {"field": "r", "type": "quantitative"}, "text": {"field": "lab", "type": "nominal"}}},
   {"data": {"name": "lab"}, "transform": [{"filter": "datum.k == 'r'"}],
    "mark": {"type": "text", "align": "right", "baseline": "middle", "fontSize": 11.3, "color": "#222", "dx": -33},
    "encoding": {"x": {"datum": 0, "type": "quantitative"}, "y": {"field": "r", "type": "quantitative"}, "text": {"field": "lab", "type": "nominal"}}}
  ]},
 {"width": 303.7, "height": 267, "view": {"stroke": "#222"},
  "title": {"text": "(c) Valid"},
  "data": {"name": "km"},
  "transform": [{"filter": "datum.p == 'C'"}, {"window": [{"op": "min", "field": "s", "as": "S"}], "groupby": ["g"], "sort": [{"field": "t"}], "frame": [null, 0]}],
  "encoding": {
   "x": {"field": "t", "type": "quantitative", "scale": {"domain": [0, 116.9], "nice": false, "zero": false}, "axis": {"values": [0,20,40,60,80,100], "title": "Survival Time (Month)"}},
   "y": {"field": "S", "type": "quantitative", "scale": {"domain": [0, 1.1], "nice": false}, "axis": {"values": [0,0.2,0.4,0.6,0.8,1], "format": ".1f", "title": "Survival Rate"}}},
  "layer": [
   {"data": {"name": "band"}, "transform": [{"filter": "datum.p == 'C' && datum.g == 'H'"}],
    "mark": {"type": "area", "interpolate": "step-after", "fill": "#1f77b4", "fillOpacity": 0.25, "stroke": "#1f77b4", "strokeOpacity": 0.25, "strokeWidth": 1, "clip": true},
    "encoding": {"y": {"field": "lo", "type": "quantitative", "title": "Survival Rate"}, "y2": {"field": "hi"}}},
   {"data": {"name": "band"}, "transform": [{"filter": "datum.p == 'C' && datum.g == 'L'"}],
    "mark": {"type": "area", "interpolate": "step-after", "fill": "#ff7f0e", "fillOpacity": 0.25, "stroke": "#ff7f0e", "strokeOpacity": 0.25, "strokeWidth": 1, "clip": true},
    "encoding": {"y": {"field": "lo", "type": "quantitative", "title": "Survival Rate"}, "y2": {"field": "hi"}}},
   {"mark": {"type": "line", "interpolate": "step-after", "strokeWidth": 1.5, "clip": true},
    "encoding": {"color": {"field": "g", "type": "nominal", "scale": {"domain": ["H","L"], "range": ["#1f77b4","#ff7f0e"]}, "legend": {"title": null, "symbolType": "M-1,0L3.6,0", "symbolStrokeWidth": 1.5, "labelExpr": "datum.label == 'H' ? 'High risk group' : 'Low risk group'"}}}},
   {"transform": [{"filter": "datum.c == 1 && datum.g == 'H'"}],
    "mark": {"type": "point", "shape": "M-1,0L1,0M0,-1L0,1", "size": 144, "filled": false, "stroke": "#1f77b4", "strokeWidth": 1, "opacity": 1, "clip": true}},
   {"transform": [{"filter": "datum.c == 1 && datum.g == 'L'"}],
    "mark": {"type": "point", "shape": "M-1,0L1,0M0,-1L0,1", "size": 144, "filled": false, "stroke": "#ff7f0e", "strokeWidth": 1, "opacity": 1, "clip": true}}
  ]},
 {"width": 1, "height": 1, "view": {"stroke": null}, "data": {"values": [{"a": 0}]}, "mark": {"type": "point", "opacity": 0}},
 {"width": 303.7, "height": 150, "view": {"stroke": null},
  "layer": [
   {"data": {"name": "tab"}, "transform": [{"filter": "datum.p == 'C'"}],
    "mark": {"type": "text", "align": "right", "baseline": "middle", "fontSize": 11.3, "color": "#222"},
    "encoding": {"x": {"field": "t", "type": "quantitative", "scale": {"domain": [0, 116.9], "nice": false, "zero": false}, "axis": null},
     "y": {"field": "r", "type": "quantitative", "scale": {"domain": [-3.791, 8.257], "nice": false, "zero": false, "reverse": true}, "axis": null},
     "text": {"field": "v", "type": "nominal"}}},
   {"data": {"name": "lab"}, "transform": [{"filter": "datum.k == 'g'"}],
    "mark": {"type": "text", "align": "right", "baseline": "middle", "fontSize": 11.3, "color": "#222", "dx": 3.5},
    "encoding": {"x": {"datum": 0, "type": "quantitative"}, "y": {"field": "r", "type": "quantitative"}, "text": {"field": "lab", "type": "nominal"}}},
   {"data": {"name": "lab"}, "transform": [{"filter": "datum.k == 'r'"}],
    "mark": {"type": "text", "align": "right", "baseline": "middle", "fontSize": 11.3, "color": "#222", "dx": -26},
    "encoding": {"x": {"datum": 0, "type": "quantitative"}, "y": {"field": "r", "type": "quantitative"}, "text": {"field": "lab", "type": "nominal"}}}
  ]}
]
}
